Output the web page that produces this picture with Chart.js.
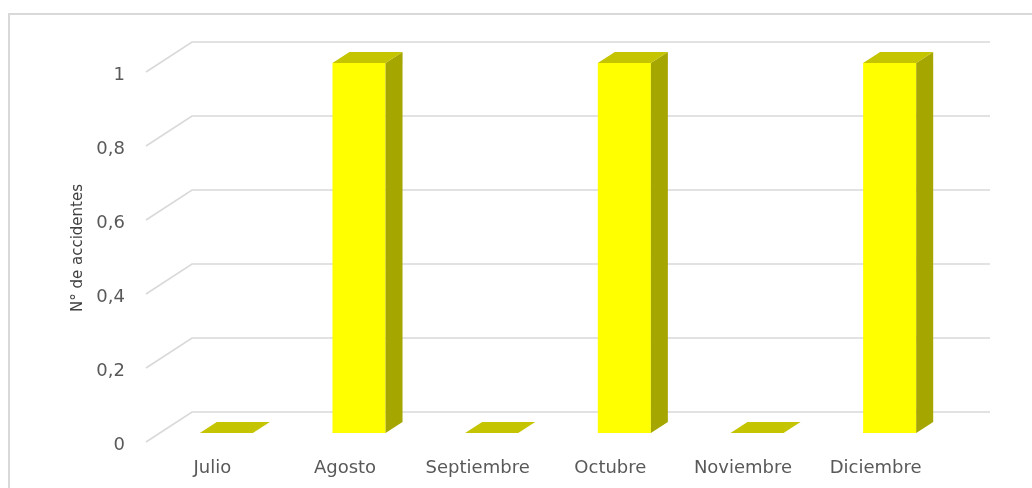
<!DOCTYPE html>
<html><head><meta charset="utf-8">
<script src="https://cdn.jsdelivr.net/npm/chart.js@4"></script>
<style>html,body{margin:0;padding:0;background:#fff;overflow:hidden}</style>
</head><body>
<canvas id="c" width="1032" height="488"></canvas>
<script>
const categories = ['Julio', 'Agosto', 'Septiembre', 'Octubre', 'Noviembre', 'Diciembre'];
const accidentes = [0, 1, 0, 1, 0, 1];
const yMin = 0, yMax = 1, yStep = 0.2;
const yTitle = 'N° de accidentes';

const FRONT = '#FFFF00', TOP = '#C4C400', SIDE = '#A6A600', GRID = '#D9D9D9';
const DX = 17, DY = -11;          // bar depth
const WALL_FX = -14, WALL_FDY = 9, WALL_BX = 32, WALL_BDY = -21, WALL_REXT = 34;

const threeD = {
  id: 'threeD',
  beforeDraw(chart) {
    const ctx = chart.ctx;
    ctx.save();
    ctx.fillStyle = '#fff';
    ctx.fillRect(0, 0, chart.width, chart.height);
    ctx.strokeStyle = GRID;
    ctx.lineWidth = 2;
    ctx.strokeRect(9, 14, chart.width + 10, chart.height + 10);
    ctx.restore();
  },
  beforeDatasetsDraw(chart) {
    const ctx = chart.ctx, y = chart.scales.y, a = chart.chartArea;
    ctx.save();
    ctx.strokeStyle = GRID;
    ctx.lineWidth = 1.6;
    y.ticks.forEach(t => {
      const py = y.getPixelForValue(t.value);
      ctx.beginPath();
      ctx.moveTo(a.left + WALL_FX, py + WALL_FDY);
      ctx.lineTo(a.left + WALL_BX, py + WALL_BDY);
      ctx.lineTo(a.right + WALL_REXT, py + WALL_BDY);
      ctx.stroke();
    });
    ctx.restore();
  },
  afterDatasetsDraw(chart) {
    const ctx = chart.ctx;
    const meta = chart.getDatasetMeta(0);
    ctx.save();
    meta.data.forEach(bar => {
      const p = bar.getProps(['x', 'y', 'base', 'width'], true);
      const l = p.x - p.width / 2, r = p.x + p.width / 2;
      const top = Math.min(p.y, p.base), bot = Math.max(p.y, p.base);
      if (bot - top > 0.5) {
        ctx.fillStyle = SIDE;
        ctx.beginPath();
        ctx.moveTo(r, top); ctx.lineTo(r + DX, top + DY);
        ctx.lineTo(r + DX, bot + DY); ctx.lineTo(r, bot);
        ctx.closePath(); ctx.fill();
      }
      ctx.fillStyle = TOP;
      ctx.beginPath();
      ctx.moveTo(l, top); ctx.lineTo(l + DX, top + DY);
      ctx.lineTo(r + DX, top + DY); ctx.lineTo(r, top);
      ctx.closePath(); ctx.fill();
    });
    ctx.restore();
  }
};

Chart.defaults.font.family = "'DejaVu Sans', sans-serif";

new Chart(document.getElementById('c'), {
  type: 'bar',
  data: {
    labels: categories,
    datasets: [{
      label: yTitle,
      data: accidentes,
      backgroundColor: FRONT,
      borderWidth: 0,
      barPercentage: 0.4,
      categoryPercentage: 1.0
    }]
  },
  options: {
    responsive: false,
    animation: false,
    layout: { padding: { top: 63, right: 76, bottom: 0, left: 0 } },
    plugins: { legend: { display: false }, tooltip: { enabled: false } },
    scales: {
      x: {
        grid: { display: false, drawTicks: false },
        border: { display: false },
        ticks: { color: '#595959', font: { size: 18 }, padding: 25, labelOffset: -14, maxRotation: 0, autoSkip: false },
        afterFit(s) { s.height = 55; }
      },
      y: {
        min: yMin, max: yMax,
        grid: { display: false, drawTicks: false },
        border: { display: false },
        ticks: {
          stepSize: yStep, color: '#595959', font: { size: 18 }, padding: 35, labelOffset: 12,
          callback: v => String(+Number(v).toFixed(1)).replace('.', ',')
        },
        title: { display: true, text: yTitle, color: '#404040', font: { size: 15 }, padding: { top: 69, bottom: 0 } },
        afterFit(s) { s.width = 160; }
      }
    }
  },
  plugins: [threeD]
});
</script>
</body></html>
